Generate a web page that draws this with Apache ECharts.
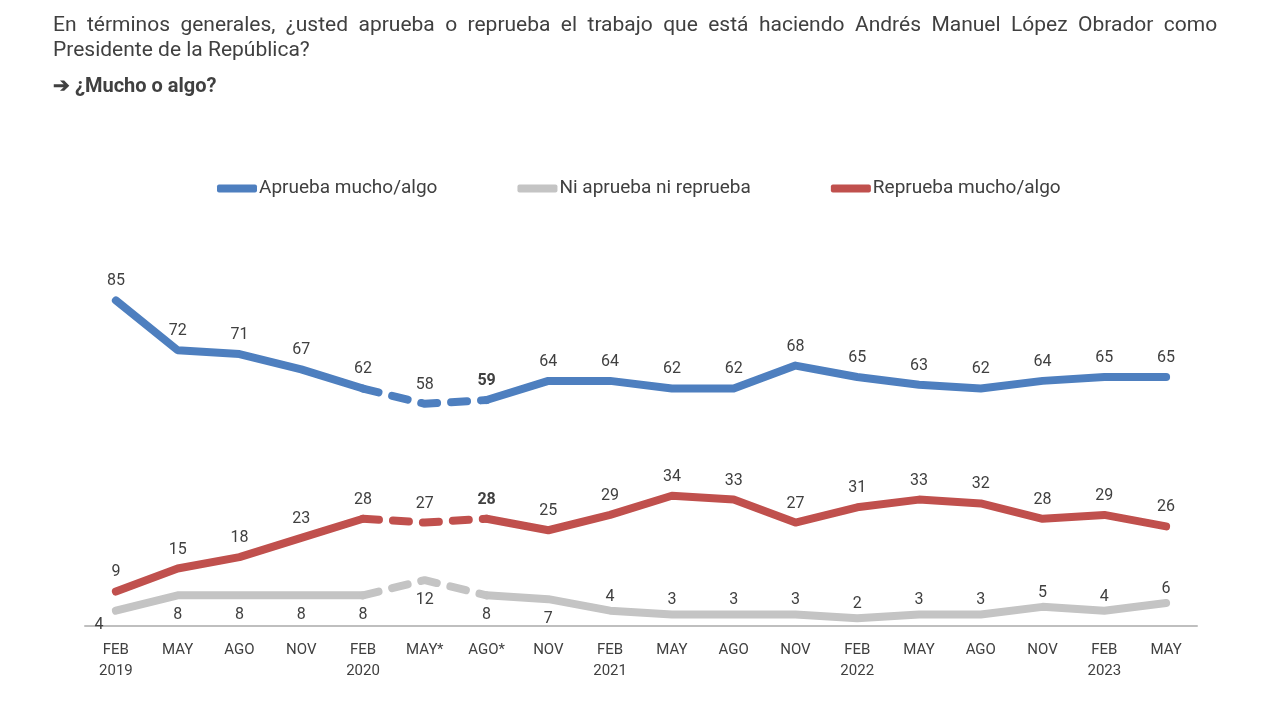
<!DOCTYPE html>
<html>
<head>
<meta charset="utf-8">
<script src="https://cdn.jsdelivr.net/npm/echarts@6/dist/echarts.min.js"></script>
<style>
  html, body { margin: 0; padding: 0; background: #fff; }
  #chart { width: 1280px; height: 720px; }
</style>
</head>
<body>
<div id="chart"></div>
<script>
var categories = ['FEB\n2019', 'MAY', 'AGO', 'NOV', 'FEB\n2020', 'MAY*', 'AGO*', 'NOV',
    'FEB\n2021', 'MAY', 'AGO', 'NOV', 'FEB\n2022', 'MAY', 'AGO', 'NOV', 'FEB\n2023', 'MAY'];
var aprueba = [85, 72, 71, 67, 62, 58, 59, 64, 64, 62, 62, 68, 65, 63, 62, 64, 65, 65];
var ni = [4, 8, 8, 8, 8, 12, 8, 7, 4, 3, 3, 3, 2, 3, 3, 5, 4, 6];
var reprueba = [9, 15, 18, 23, 28, 27, 28, 25, 29, 34, 33, 27, 31, 33, 32, 28, 29, 26];

// the May*/Ago* survey points are drawn dashed
var gapIdx = 5;
var boldIdx = 6;

var blue = '#4e7fbf';
var gray = '#c4c4c4';
var red = '#c0504d';
var txt = '#404040';

function itemLabel(i, belowUntil, boldOn, topDist) {
    var l = { position: 'top', distance: topDist };
    if (i <= belowUntil) {
        l.position = 'bottom';
        l.distance = 12;
    }
    if (i === 0 && belowUntil >= 0) l.offset = [-17, -6];
    if (boldOn && i === boldIdx) l.fontWeight = 'bold';
    return l;
}

function solidData(arr, belowUntil, boldOn, topDist) {
    return arr.map(function (v, i) {
        if (i === gapIdx) return '-';
        return { value: v, label: itemLabel(i, belowUntil, boldOn, topDist) };
    });
}
function dashData(arr, belowUntil, topDist) {
    return arr.map(function (v, i) {
        if (i < gapIdx - 1 || i > gapIdx + 1) return '-';
        var l = itemLabel(i, belowUntil, false, topDist);
        l.show = i === gapIdx;
        return { value: v, label: l };
    });
}

function pair(name, color, arr, belowUntil, boldOn, topDist, z) {
    var lbl = { show: true, color: txt, fontSize: 16, fontFamily: 'Roboto' };
    return [{
        name: name, type: 'line', data: solidData(arr, belowUntil, boldOn, topDist),
        symbol: 'circle', symbolSize: 0.1, z: z, connectNulls: false,
        lineStyle: { color: color, width: 8, cap: 'round', join: 'round' },
        itemStyle: { color: color },
        label: lbl
    }, {
        name: name, type: 'line', data: dashData(arr, belowUntil, topDist),
        symbol: 'circle', symbolSize: 0.1, z: z,
        lineStyle: { color: color, width: 8, type: [16, 14], cap: 'round' },
        itemStyle: { color: color },
        label: lbl
    }];
}

var option = {
    animation: false,
    backgroundColor: '#fff',
    title: [{
        text: 'En  términos  generales,  ¿usted  aprueba  o  reprueba  el  trabajo  que  está  haciendo  Andrés  Manuel  López  Obrador  como\nPresidente de la República?',
        left: 48, top: 8,
        textStyle: { color: txt, fontSize: 21, fontWeight: 'normal', fontFamily: 'Roboto', lineHeight: 25 }
    }, {
        text: '➔ ¿Mucho o algo?',
        left: 48, top: 72,
        textStyle: { color: txt, fontSize: 20, fontWeight: 'bold', fontFamily: 'Roboto' }
    }],
    legend: {
        top: 174, left: 212,
        data: ['Aprueba mucho/algo', 'Ni aprueba ni reprueba', 'Reprueba mucho/algo'],
        icon: 'roundRect', itemWidth: 40, itemHeight: 8, itemGap: 80,
        textStyle: { color: txt, fontSize: 19, fontFamily: 'Roboto', padding: [0, 0, 0, -3] }
    },
    grid: { left: 85, right: 83, top: 243, bottom: 94 },
    xAxis: {
        type: 'category', data: categories, boundaryGap: true,
        axisLine: { lineStyle: { color: '#bfbfbf', width: 2 } },
        axisTick: { show: false },
        axisLabel: { color: txt, fontSize: 15, fontFamily: 'Roboto', lineHeight: 21, margin: 14, interval: 0 }
    },
    yAxis: {
        type: 'value', min: 0, max: 100, show: false
    },
    series: [].concat(
        pair('Ni aprueba ni reprueba', gray, ni, 7, false, 6, 2),
        pair('Reprueba mucho/algo', red, reprueba, -1, true, 11, 3),
        pair('Aprueba mucho/algo', blue, aprueba, -1, true, 11, 4)
    )
};

echarts.init(document.getElementById('chart')).setOption(option);
</script>
</body>
</html>
